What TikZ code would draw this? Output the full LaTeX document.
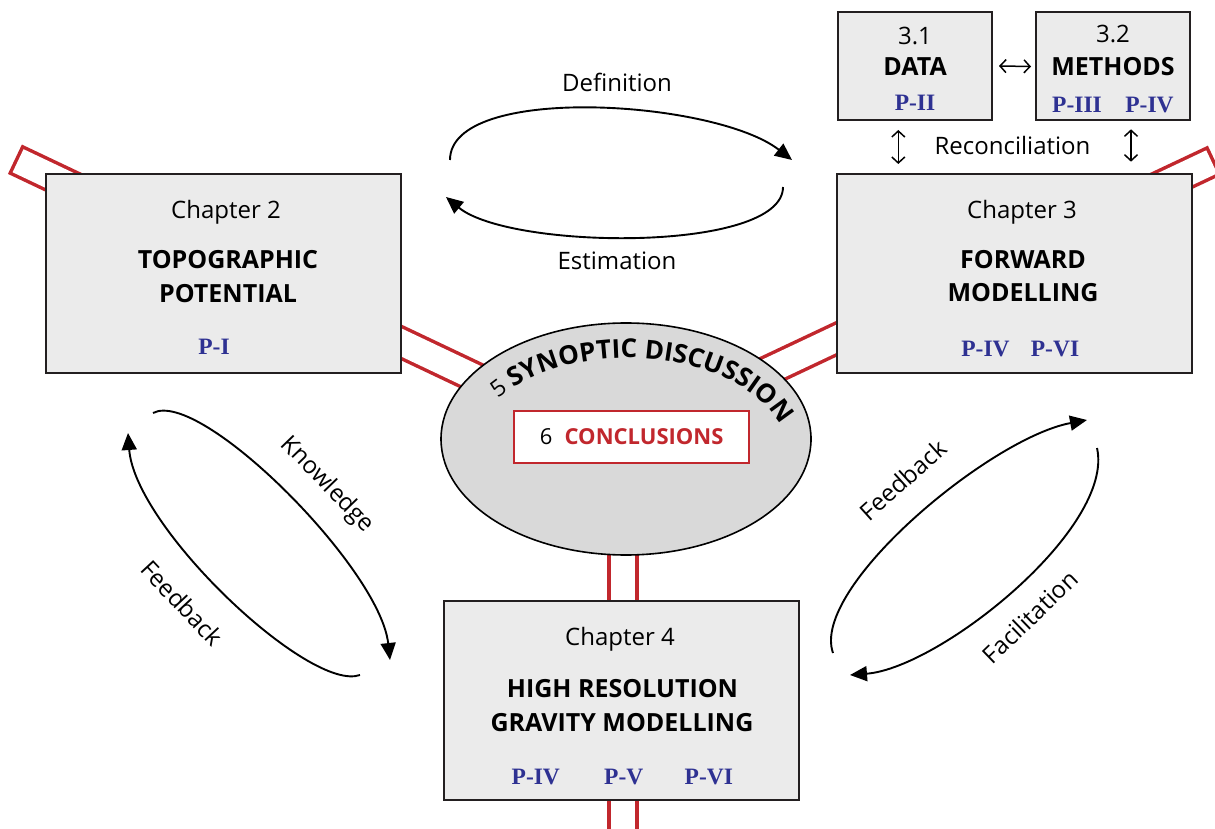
\documentclass[tikz,border=0pt]{standalone}
\usepackage{fontspec}
\setmainfont{Open Sans}
\newfontfamily\serifP{Liberation Serif}
\usetikzlibrary{arrows.meta,decorations.text,backgrounds,shapes.geometric}
\definecolor{boxfill}{HTML}{EBEBEB}
\definecolor{boxline}{HTML}{231F20}
\definecolor{ellfill}{HTML}{D9D9D9}
\definecolor{barred}{HTML}{C1272D}
\definecolor{pblue}{HTML}{2E3192}
\newcommand{\regfont}{\fontsize{24}{28}\selectfont}
\newcommand{\headfont}{\fontsize{25}{30}\selectfont\bfseries}
\newcommand{\pfont}{\serifP\fontsize{23.5}{28}\selectfont\bfseries}
\newcommand{\fivefont}{\fontsize{23}{28}\selectfont\mdseries}
\newcommand{\synfont}{\fontsize{26}{30}\selectfont\bfseries}
\newcommand{\confont}{\fontsize{22}{26}\selectfont}
\begin{document}
\begin{tikzpicture}[x=1pt,y=1pt,
  chbox/.style={draw=boxline, fill=boxfill, line width=2pt, minimum width=355pt, minimum height=199pt, inner sep=0pt},
  subbox/.style={chbox, minimum width=154pt, minimum height=108pt},
  ellnode/.style={ellipse, draw=black, fill=ellfill, line width=1.6pt, minimum width=370pt, minimum height=232pt, inner sep=0pt},
  conbox/.style={draw=barred, fill=white, line width=2pt, minimum width=235pt, minimum height=52pt, inner sep=0pt},
  reg/.style={font=\regfont, inner sep=0pt, anchor=base},
  head/.style={font=\headfont, inner sep=0pt, anchor=base},
  plab/.style={font=\pfont, text=pblue, inner sep=0pt, anchor=base},
  cyc/.style={line width=1.9pt, -{Triangle[length=17pt,width=15pt]}},
  dbl/.style={line width=1.5pt, {Straight Barb[length=6pt,width=13pt]}-{Straight Barb[length=6pt,width=13pt]}},
  redbar/.style={draw=barred, line width=3.5pt, double=white, double distance=25.5pt, line cap=rect},
  lab/.style={font=\regfont, inner sep=0pt}
]
\useasboundingbox (0,0) rectangle (1215,828);
\clip (0,0) rectangle (1215,828);

% boxes
\node[chbox] (ch2) at (223,554.5) {};
\node[chbox] (ch3) at (1014,554.5) {};
\node[chbox] (ch4) at (621.5,127.5) {};
\node[subbox] (data) at (915,762) {};
\node[subbox] (meth) at (1113,761.5) {};
\node[ellnode] (syn) at (626,389) {};
\node[conbox] (con) at (631.5,391) {};

% red bars (behind)
\coordinate (hubL) at (626,379);
\coordinate (endL) at (29.6,661.8);
\coordinate (hubR) at (626,390);
\coordinate (endR) at (1200.1,660.7);
\coordinate (hubB) at (623,389);
\coordinate (endB) at (623,-30);
\begin{pgfonlayer}{background}
\draw[redbar] (hubL) -- (endL);
\draw[redbar] (hubR) -- (endR);
\draw[redbar, double distance=24.5pt] (hubB) -- (endB);
\end{pgfonlayer}

% Chapter 2
\node[reg] (c2a) at (226,609.7) {Chapter 2};
\node[head] (c2b) at (228,559.7) {TOPOGRAPHIC};
\node[head] (c2c) at (228,525.3) {POTENTIAL};
\node[plab] (c2p) at (214,473) {P-I};

% Chapter 3
\node[reg] (c3a) at (1022,609.7) {Chapter 3};
\node[head] (c3b) at (1023,559.7) {FORWARD};
\node[head] (c3c) at (1023,526.3) {MODELLING};
\node[plab] (c3p1) at (985.5,471.3) {P-IV};
\node[plab] (c3p2) at (1055,471.3) {P-VI};

% Chapter 4
\node[reg] (c4a) at (620,183) {Chapter 4};
\node[head] (c4b) at (622.5,130.7) {HIGH RESOLUTION};
\node[head] (c4c) at (622,96.3) {GRAVITY MODELLING};
\node[plab] (c4p1) at (535.8,44) {P-IV};
\node[plab] (c4p2) at (623.8,44) {P-V};
\node[plab] (c4p3) at (708.8,44) {P-VI};

% Data / Methods
\node[reg] (d1) at (915,783) {3.1};
\node[head] (d2) at (915,752) {DATA};
\node[plab] (d3) at (915,717.3) {P-II};
\node[reg] (m1) at (1113,785.3) {3.2};
\node[head] (m2) at (1113,752) {METHODS};
\node[plab] (m3) at (1077,715.3) {P-III};
\node[plab] (m4) at (1149.5,715.3) {P-IV};

\draw[dbl] ([xshift=6pt]data.east) -- ([xshift=-4pt]meth.west);
\coordinate (rl1) at (898.3,698);
\coordinate (rl2) at (898.3,664);
\coordinate (rr1) at (1131,698.7);
\coordinate (rr2) at (1131,666.3);
\draw[dbl] (rl1) -- (rl2);
\draw[dbl] (rr1) -- (rr2);
\node[reg] (recon) at (1012.5,673) {Reconciliation};

% Conclusions
\node[inner sep=0pt, anchor=base, font=\confont] (conc) at (631.7,383) {6\hspace{0.55em}\textcolor{barred}{\bfseries CONCLUSIONS}};

% Synoptic discussion along arc
\path[decorate, decoration={text along path, text align=center,
   text={|\fivefont|5 |\synfont|SYNOPTIC DISCUSSION}}]
   (628,372) ++(168:160pt and 98pt) arc[start angle=168, end angle=-8, x radius=160pt, y radius=98pt];

% top cycle
\coordinate (t1s) at (450,668);
\coordinate (t1e) at (792,668);
\coordinate (t2s) at (783,641);
\coordinate (t2e) at (446,631);
\draw[cyc] (t1s) .. controls (450,745) and (715,728) .. (t1e);
\draw[cyc] (t2s) .. controls (783,575) and (510,578) .. (t2e);
\node[reg] (defn) at (617,736.3) {Definition};
\node[reg] (estm) at (617,558) {Estimation};

% left cycle
\coordinate (l1s) at (153,415);
\coordinate (l1e) at (390,168);
\coordinate (l2s) at (360,153);
\coordinate (l2e) at (128,395);
\draw[cyc] (l1s) .. controls (200,440) and (380,260) .. (l1e);
\draw[cyc] (l2s) .. controls (310,135) and (135,300) .. (l2e);
\node[lab, rotate=-46] (know) at (327,343) {Knowledge};
\node[lab, rotate=-47] (feedl) at (182,225) {Feedback};

% right cycle
\coordinate (r1s) at (833,175);
\coordinate (r1e) at (1087,408);
\coordinate (r2s) at (1097,380);
\coordinate (r2e) at (850,153);
\draw[cyc] (r1s) .. controls (810,240) and (990,390) .. (r1e);
\draw[cyc] (r2s) .. controls (1115,300) and (940,160) .. (r2e);
\node[lab, rotate=42] (feedr) at (903,348) {Feedback};
\node[lab, rotate=44] (facil) at (1030,211) {Facilitation};
\end{tikzpicture}
\end{document}
